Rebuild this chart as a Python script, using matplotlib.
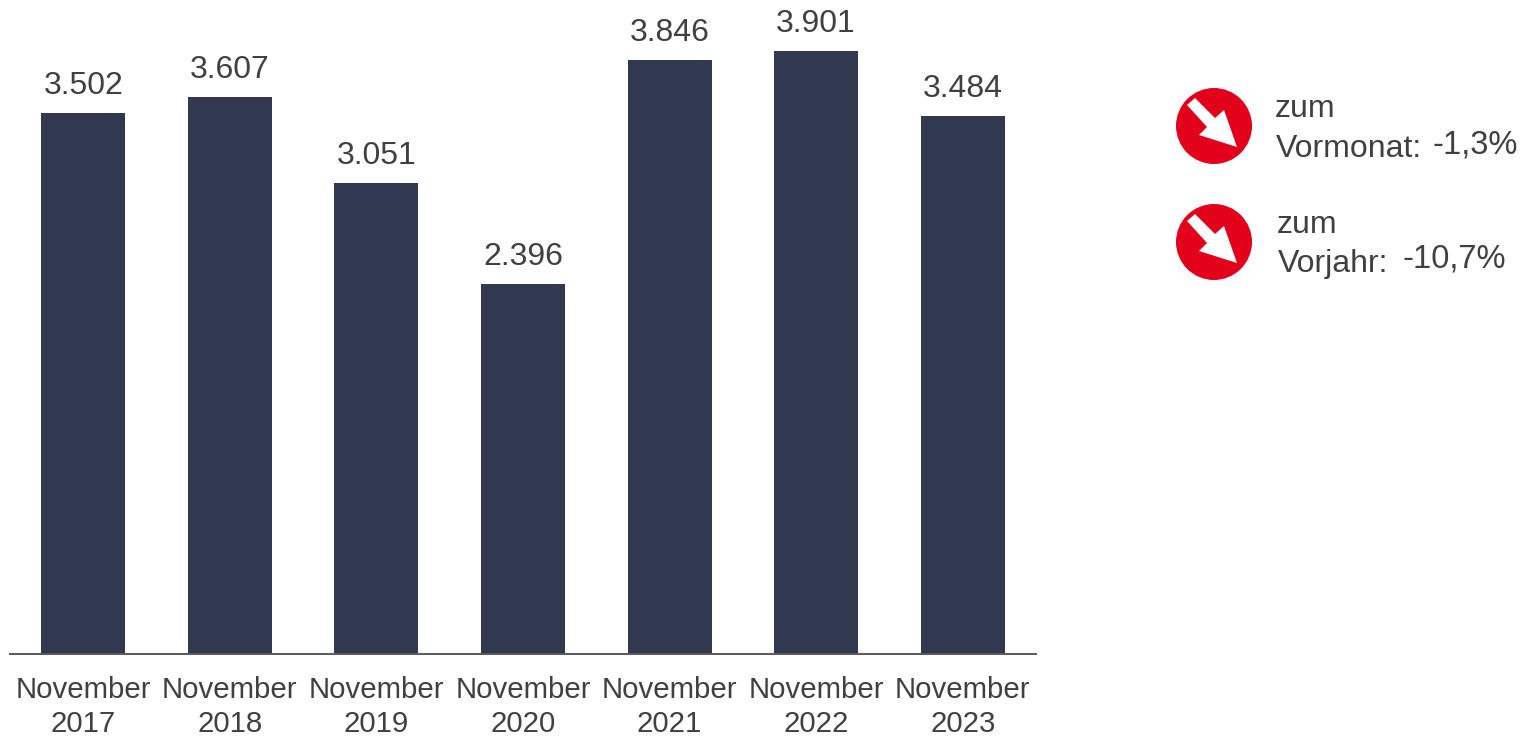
import matplotlib
matplotlib.use('Agg')
import matplotlib.pyplot as plt
from matplotlib.patches import Circle, Polygon

plt.rcParams['font.family'] = ['Liberation Sans', 'DejaVu Sans']

W, H = 1522, 736

# data
years = ['2017', '2018', '2019', '2020', '2021', '2022', '2023']
values = [3502, 3607, 3051, 2396, 3846, 3901, 3484]
value_labels = ['3.502', '3.607', '3.051', '2.396', '3.846', '3.901', '3.484']
tick_labels = ['November\n' + y for y in years]

change_names = ['Vormonat:', 'Vorjahr:']
change_values = ['-1,3%', '-10,7%']

BAR = '#30394f'
TEXT = '#404040'
RED = '#e2001a'

fig = plt.figure(figsize=(W / 100, H / 100), dpi=100, facecolor='white')

# chart area, baseline at y=654 px
ax = fig.add_axes([10 / W, 1 - 654 / H, 1026 / W, 654 / H])
ax.bar(range(len(values)), values, width=0.573, color=BAR)
ax.set_xlim(-0.5, 6.5)
ax.set_ylim(0, 654 / 0.1545)
for i, v in enumerate(values):
    ax.annotate(value_labels[i], (i, v), xytext=(0, 12), textcoords='offset pixels',
                ha='center', va='bottom', fontsize=23, color=TEXT)

ax.set_xticks(range(len(values)))
ax.set_xticklabels(tick_labels, fontsize=21.2, color=TEXT, linespacing=1.24)
ax.tick_params(axis='x', length=0, pad=16)
ax.set_yticks([])
for s in ['top', 'left', 'right']:
    ax.spines[s].set_visible(False)
ax.spines['bottom'].set_color('#595959')
ax.spines['bottom'].set_linewidth(1.4)
ax.patch.set_alpha(0)

# overlay in pixel coordinates for the two indicators on the right
ov = fig.add_axes([0, 0, 1, 1])
ov.set_xlim(0, W)
ov.set_ylim(H, 0)
ov.axis('off')
ov.patch.set_alpha(0)

arrow = [(-27, -21), (-19, -28), (1, -8), (10, -16), (23, 21), (-15, 9), (-7, 1)]

for cy in [126, 242]:
    ov.add_patch(Circle((1214, cy), 38, color=RED, lw=0))
    ov.add_patch(Polygon([(1214 + x, cy + y) for x, y in arrow], color='white', lw=0))

ov.text(1275, 117, 'zum', fontsize=23, color=TEXT, va='baseline')
ov.text(1276, 157, change_names[0], fontsize=23, color=TEXT, va='baseline')
ov.text(1433, 153, change_values[0], fontsize=23.5, color=TEXT, va='baseline')
ov.text(1277, 233, 'zum', fontsize=23, color=TEXT, va='baseline')
ov.text(1278, 272, change_names[1], fontsize=23, color=TEXT, va='baseline')
ov.text(1403, 267, change_values[1], fontsize=23.5, color=TEXT, va='baseline')

fig.savefig('out.png', dpi=100)
